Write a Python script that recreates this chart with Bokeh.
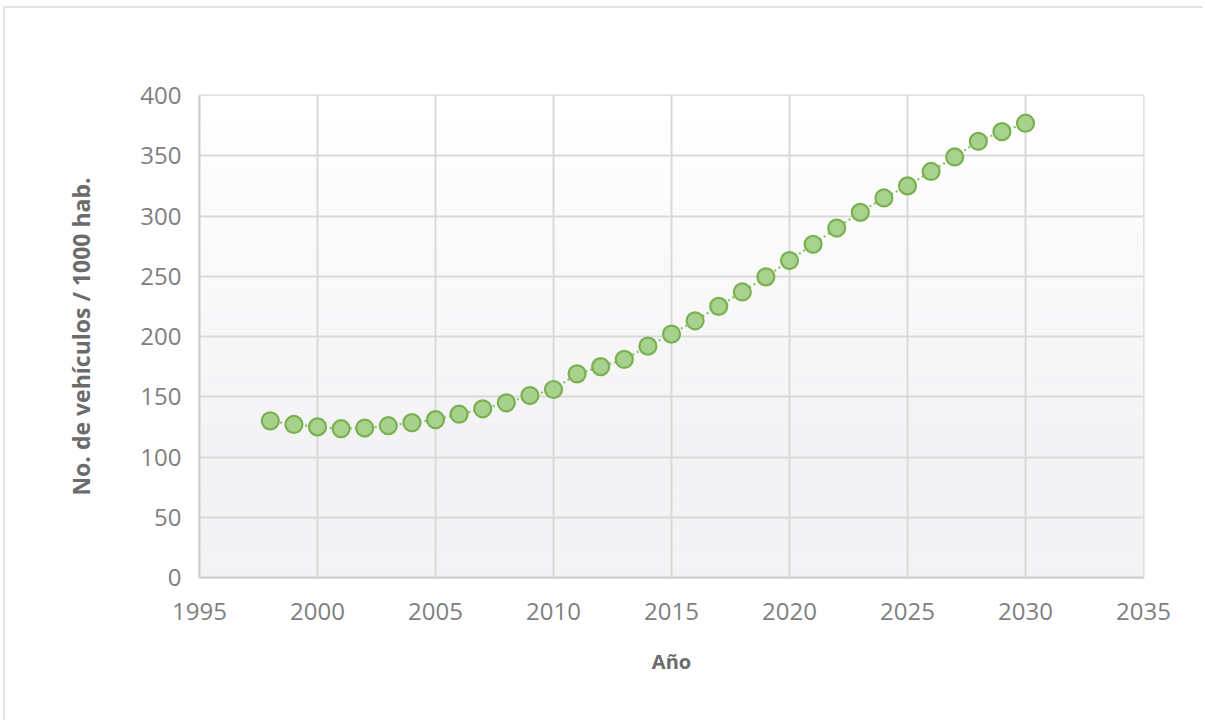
from bokeh.plotting import figure
from bokeh.models import ColumnDataSource, BoxAnnotation, FixedTicker, Range1d
from bokeh.embed import file_html
from bokeh.resources import INLINE

# ---- data ----
years = list(range(1998, 2031))
vehicles = [130, 127, 125, 123.5, 124, 126, 128.5, 131, 135.5, 140, 145, 151, 156,
            169, 175, 181, 192, 202, 213, 225, 237, 249.5, 263, 276.5, 290,
            303, 315, 325, 337, 349, 362, 370, 377]
x_ticks = [1995, 2000, 2005, 2010, 2015, 2020, 2025, 2030, 2035]
y_ticks = [0, 50, 100, 150, 200, 250, 300, 350, 400]
x_title = "Año"
y_title = "No. de vehículos / 1000 hab."

src = ColumnDataSource(dict(x=years, y=vehicles))

FONT = "Open Sans"
W, H = 1200, 714
p = figure(width=W, height=H, output_backend="svg", toolbar_location=None,
           x_range=Range1d(1995, 2035), y_range=Range1d(0, 400),
           min_border_left=194, min_border_right=62, min_border_top=87, min_border_bottom=145,
           background_fill_color="white", border_fill_color="white",
           margin=(6, 0, 0, 3),
           styles={"border-top": "2px solid #e3e3e3", "border-left": "2px solid #e3e3e3"})

# subtle vertical gradient in the plot area (white at top -> light grey at bottom)
n = 40
top_c = (255, 255, 255)
bot_c = (243, 243, 245)
for i in range(n):
    t = i / (n - 1)
    c = tuple(int(round(top_c[k] + (bot_c[k] - top_c[k]) * min(1.0, (1 - t) * 1.4))) for k in range(3))
    col = "#%02x%02x%02x" % c
    p.add_layout(BoxAnnotation(bottom=400 * i / n, top=400 * (i + 1) / n,
                               fill_color=col, fill_alpha=1.0, line_color=None,
                               level="image"))

p.line("x", "y", source=src, line_color="#8cc269", line_width=2.2, line_dash="2 3")
p.scatter("x", "y", source=src, size=17, fill_color="#a9d18e", line_color="#79b050",
          line_width=2.2)

grid_c = "#d9d9d9"
p.xgrid.ticker = FixedTicker(ticks=x_ticks)
p.ygrid.ticker = FixedTicker(ticks=y_ticks)
for g in (p.xgrid, p.ygrid):
    g.grid_line_color = grid_c
    g.grid_line_width = 2
    g.level = "underlay"
p.outline_line_color = grid_c
p.outline_line_width = 2

p.xaxis.ticker = FixedTicker(ticks=x_ticks)
p.yaxis.ticker = FixedTicker(ticks=y_ticks)
for ax in (p.xaxis[0], p.yaxis[0]):
    ax.axis_line_color = "#cdcdcd"
    ax.axis_line_width = 2
    ax.major_tick_line_color = None
    ax.minor_tick_line_color = None
    ax.major_tick_out = 0
    ax.major_label_text_font = FONT
    ax.major_label_text_font_size = "24px"
    ax.major_label_text_color = "#7f7f7f"
    ax.axis_label_text_font = FONT
    ax.axis_label_text_font_style = "bold"
    ax.axis_label_text_color = "#6b6b6b"

p.xaxis.axis_label_text_font_size = "20px"
p.yaxis.axis_label_text_font_size = "23px"
p.xaxis.axis_label = x_title
p.yaxis.axis_label = y_title
p.xaxis.major_label_standoff = 25
p.yaxis.major_label_standoff = 18
p.xaxis.axis_label_standoff = 25
p.yaxis.axis_label_standoff = 40

open("out.html", "w").write(file_html(p, INLINE))
